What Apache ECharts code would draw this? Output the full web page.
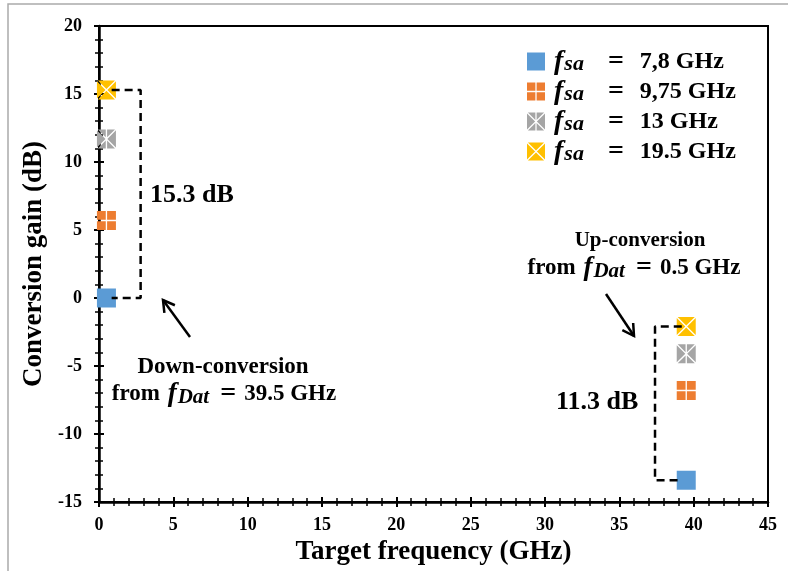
<!DOCTYPE html>
<html>
<head>
<meta charset="utf-8">
<script src="https://cdn.jsdelivr.net/npm/echarts@6/dist/echarts.min.js"></script>
<style>
html,body{margin:0;padding:0;background:#fff;}
#chart{width:788px;height:571px;}
</style>
</head>
<body>
<div id="chart"></div>
<script>
// ---- data ----
const targetFreq = [0.5, 39.5];           // GHz: down-conversion target, up-conversion target
const seriesNames = ['7,8 GHz', '9,75 GHz', '13 GHz', '19.5 GHz'];
const gain78 = [0, -13.4];
const gain975 = [5.7, -6.8];
const gain13 = [11.7, -4.1];
const gain195 = [15.3, -2.1];
const seriesColors = ['#5B9BD5', '#ED7D31', '#A5A5A5', '#FFC000'];
const xTicks = [0, 5, 10, 15, 20, 25, 30, 35, 40, 45];
const yTicks = [-15, -10, -5, 0, 5, 10, 15, 20];
// bracket annotations (data coordinates)
const bracketDown = [[0.85, 15.3], [2.8, 15.3], [2.8, 0], [0.85, 0]];
const bracketUp = [[39.2, -2.1], [37.4, -2.1], [37.4, -13.4], [39.2, -13.4]];

// ---- marker shapes (20x20 box, white gaps = background) ----
const g = 0.7, h = 1.0;
const pSquare = 'path://M0 0H20V20H0Z';
const pPlus = 'path://M0 0H' + (10 - g) + 'V' + (10 - g) + 'H0Z M' + (10 + g) + ' 0H20V' + (10 - g) + 'H' + (10 + g) + 'Z M0 ' + (10 + g) + 'H' + (10 - g) + 'V20H0Z M' + (10 + g) + ' ' + (10 + g) + 'H20V20H' + (10 + g) + 'Z';
const pStar = 'path://' +
  'M' + h + ' 0L' + (10 - g) + ' 0L' + (10 - g) + ' ' + (10 - g - h) + 'Z ' +
  'M' + (10 + g) + ' 0L' + (20 - h) + ' 0L' + (10 + g) + ' ' + (10 - g - h) + 'Z ' +
  'M' + h + ' 20L' + (10 - g) + ' 20L' + (10 - g) + ' ' + (10 + g + h) + 'Z ' +
  'M' + (10 + g) + ' 20L' + (20 - h) + ' 20L' + (10 + g) + ' ' + (10 + g + h) + 'Z ' +
  'M0 ' + h + 'L0 ' + (20 - h) + 'L' + (10 - h) + ' 10Z ' +
  'M20 ' + h + 'L20 ' + (20 - h) + 'L' + (10 + h) + ' 10Z';
const pCross = 'path://' +
  'M' + h + ' 0L' + (20 - h) + ' 0L10 ' + (10 - h) + 'Z ' +
  'M' + h + ' 20L' + (20 - h) + ' 20L10 ' + (10 + h) + 'Z ' +
  'M0 ' + h + 'L0 ' + (20 - h) + 'L' + (10 - h) + ' 10Z ' +
  'M20 ' + h + 'L20 ' + (20 - h) + 'L' + (10 + h) + ' 10Z';
const symbols = [pSquare, pPlus, pStar, pCross];
const gains = [gain78, gain975, gain13, gain195];

const SERIF = '"Liberation Serif", "Times New Roman", serif';
function richMath(tSize, fSize, fPad, sSize, eSize, ePad) {
  return {
    f: { fontFamily: SERIF, fontStyle: 'italic', fontWeight: 'bold', fontSize: fSize, lineHeight: 28, padding: fPad, color: '#000' },
    s: { fontFamily: SERIF, fontStyle: 'italic', fontWeight: 'bold', fontSize: sSize, lineHeight: 16, verticalAlign: 'bottom', color: '#000' },
    e: { fontFamily: SERIF, fontWeight: 'bold', fontSize: eSize, lineHeight: 28, padding: ePad, color: '#000' },
    t: { fontFamily: SERIF, fontWeight: 'bold', fontSize: tSize, lineHeight: 28, color: '#000' }
  };
}
const richLegend = richMath(24, 28, [0, 1, 0, 4], 22, 28, [0, 16, 0, 24]);
const richNote = richMath(23, 27, [0, 1, 0, 2], 21, 28, [0, 8, 0, 11]);

const chart = echarts.init(document.getElementById('chart'), null, { renderer: 'canvas' });

const scatterSeries = seriesNames.map((name, i) => ({
  name: name,
  type: 'scatter',
  xAxisIndex: 0, yAxisIndex: 0,
  symbol: symbols[i],
  symbolSize: 19,
  itemStyle: { color: seriesColors[i], opacity: 1 },
  z: 3,
  data: targetFreq.map((x, k) => [x, gains[i][k]])
}));

const bracketStyle = { color: '#000', width: 2.5, type: [8, 5] };
const bracketSeries = [bracketDown, bracketUp].map((d) => ({
  type: 'line', xAxisIndex: 0, yAxisIndex: 0,
  data: d, symbol: 'none', silent: true, z: 4,
  lineStyle: bracketStyle, legendHoverLink: false
}));

const axisLabelStyle = { fontFamily: SERIF, fontWeight: 'bold', fontSize: 18, color: '#000' };

function arrow(tail, tip, len) {
  const dx = tip[0] - tail[0], dy = tip[1] - tail[1];
  const L = Math.sqrt(dx * dx + dy * dy);
  const ux = -dx / L, uy = -dy / L;
  const a = Math.PI / 6;
  const l1 = [tip[0] + len * (Math.cos(a) * ux - Math.sin(a) * uy), tip[1] + len * (Math.sin(a) * ux + Math.cos(a) * uy)];
  const l2 = [tip[0] + len * (Math.cos(-a) * ux - Math.sin(-a) * uy), tip[1] + len * (Math.sin(-a) * ux + Math.cos(-a) * uy)];
  return [
    { type: 'line', shape: { x1: tail[0], y1: tail[1], x2: tip[0], y2: tip[1] }, style: { stroke: '#000', lineWidth: 2.5 } },
    { type: 'polyline', shape: { points: [l1, tip, l2] }, style: { stroke: '#000', lineWidth: 2.5, fill: null } }
  ];
}

function label(x, y, text, size, align) {
  return {
    type: 'text', x: x, y: y,
    style: { text: text, rich: richNote, align: align || 'center', verticalAlign: 'middle',
      fontFamily: SERIF, fontWeight: 'bold', fontSize: size, fill: '#000' }
  };
}

const tickCommon = {
  axisTick: { show: true, length: 5, lineStyle: { color: '#000', width: 2 } },
  minorTick: { show: true, splitNumber: 5, length: 4, lineStyle: { color: '#000', width: 1.5 } }
};

const option = {
  backgroundColor: '#fff',
  animation: false,
  grid: { left: 99, right: 20, top: 26, bottom: 69, show: true, borderColor: '#000', borderWidth: 2, backgroundColor: 'transparent' },
  legend: {
    orient: 'vertical', left: 527, top: 47.5, padding: 0,
    itemWidth: 18, itemHeight: 18, itemGap: 2,
    data: seriesNames.map((n, i) => ({ name: n, icon: symbols[i] })),
    formatter: (name) => '{f|f}{s|sa}{e|=}{t|' + name + '}',
    textStyle: { rich: richLegend, fontFamily: SERIF, fontWeight: 'bold', fontSize: 24 },
    selectedMode: false
  },
  xAxis: [{
    type: 'value', min: xTicks[0], max: xTicks[xTicks.length - 1], interval: 5,
    position: 'bottom',
    name: 'Target frequency (GHz)', nameLocation: 'middle', nameGap: 35,
    nameTextStyle: { fontFamily: SERIF, fontWeight: 'bold', fontSize: 27, color: '#000' },
    axisLine: { show: true, onZero: false, lineStyle: { color: '#000', width: 2.5 } },
    axisTick: Object.assign({ inside: false }, tickCommon.axisTick),
    minorTick: tickCommon.minorTick,
    axisLabel: Object.assign({ margin: 14 }, axisLabelStyle),
    splitLine: { show: false }
  }, {
    type: 'value', min: xTicks[0], max: xTicks[xTicks.length - 1], interval: 5,
    position: 'bottom', offset: 0,
    axisLine: { show: false, onZero: false },
    axisTick: Object.assign({ inside: true }, tickCommon.axisTick),
    minorTick: tickCommon.minorTick,
    axisLabel: { show: false }, splitLine: { show: false }
  }],
  yAxis: [{
    type: 'value', min: yTicks[0], max: yTicks[yTicks.length - 1], interval: 5,
    position: 'left',
    name: 'Conversion gain (dB)', nameLocation: 'middle', nameGap: 48, nameRotate: 90,
    nameTextStyle: { fontFamily: SERIF, fontWeight: 'bold', fontSize: 27, color: '#000' },
    axisLine: { show: true, onZero: false, lineStyle: { color: '#000', width: 2.5 } },
    axisTick: Object.assign({ inside: false }, tickCommon.axisTick),
    minorTick: tickCommon.minorTick,
    axisLabel: Object.assign({ margin: 17 }, axisLabelStyle),
    splitLine: { show: false }
  }, {
    type: 'value', min: yTicks[0], max: yTicks[yTicks.length - 1], interval: 5,
    position: 'left', offset: 0,
    axisLine: { show: false, onZero: false },
    axisTick: Object.assign({ inside: true }, tickCommon.axisTick),
    minorTick: tickCommon.minorTick,
    axisLabel: { show: false }, splitLine: { show: false }
  }],
  graphic: [
    { type: 'rect', shape: { x: 8, y: 4, width: 900, height: 700 }, style: { stroke: '#AAAAAA', lineWidth: 1.5, fill: null }, z: -10, silent: true },
    ...arrow([190, 337], [163, 300], 13),
    ...arrow([606, 294], [634, 336], 13),
    label(150, 195, '15.3 dB', 26, 'left'),
    label(556, 402, '11.3 dB', 26, 'left'),
    label(223, 367, 'Down-conversion', 23),
    label(224, 394, 'from {f|f}{s|Dat}{e|=}{t|39.5 GHz}', 23),
    label(640, 241, 'Up-conversion', 21),
    label(634, 268, 'from {f|f}{s|Dat}{e|=}{t|0.5 GHz}', 23)
  ],
  series: [...scatterSeries, ...bracketSeries]
};
chart.setOption(option);
</script>
</body>
</html>
